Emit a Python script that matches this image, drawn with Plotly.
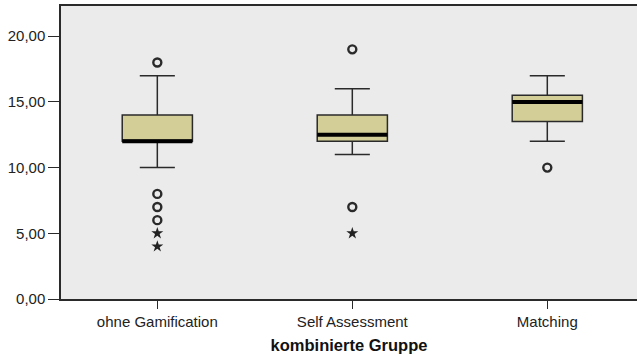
import plotly.graph_objects as go

# Daten
gruppen = ["ohne Gamification", "Self Assessment", "Matching"]
q1 = [12, 12, 13.5]
median = [12, 12.5, 15]
q3 = [14, 14, 15.5]
unten = [10, 11, 12]
oben = [17, 16, 17]

# Ausreisser (o) und Extremwerte (*)
ausreisser = {
    "ohne Gamification": [18, 8, 7, 6],
    "Self Assessment": [19, 7],
    "Matching": [10],
}
extremwerte = {
    "ohne Gamification": [5, 4],
    "Self Assessment": [5],
    "Matching": [],
}

y_ticks = [0, 5, 10, 15, 20]

dunkel = "#2a2a2a"

ax_o, ay_o = [], []
for g, werte in ausreisser.items():
    ax_o += [g] * len(werte)
    ay_o += werte
ax_e, ay_e = [], []
for g, werte in extremwerte.items():
    ax_e += [g] * len(werte)
    ay_e += werte

fig = go.Figure()

fig.add_trace(go.Box(
    x=gruppen, q1=q1, median=median, q3=q3,
    lowerfence=unten, upperfence=oben,
    width=0.36, whiskerwidth=0.5,
    fillcolor="#D3CE97",
    line=dict(color=dunkel, width=1.5),
    boxpoints=False, showlegend=False, hoverinfo="skip",
))

# dicker Medianstrich
fig.add_trace(go.Box(
    x=gruppen, q1=median, median=median, q3=median,
    lowerfence=median, upperfence=median,
    width=0.36, whiskerwidth=0,
    fillcolor="rgba(0,0,0,0)",
    line=dict(color="black", width=4),
    boxpoints=False, showlegend=False, hoverinfo="skip",
))

fig.add_trace(go.Scatter(
    x=ax_o, y=ay_o, mode="markers",
    marker=dict(symbol="circle-open", size=8, color=dunkel, line=dict(width=2.4, color=dunkel)),
    showlegend=False, hoverinfo="skip",
))
fig.add_trace(go.Scatter(
    x=ax_e, y=ay_e, mode="markers",
    marker=dict(symbol="star", size=9, color="#222222"),
    showlegend=False, hoverinfo="skip",
))

fig.update_layout(
    width=637, height=356,
    margin=dict(l=61, r=0, t=6, b=57),
    paper_bgcolor="white",
    plot_bgcolor="#EBEBEB",
    separators=",.",
    boxmode="overlay",
    font=dict(family="Liberation Sans, Arial, sans-serif", size=15, color="#222222"),
    xaxis=dict(
        type="category",
        range=[-0.494, 2.46],
        showgrid=False, zeroline=False,
        showline=True, linecolor=dunkel, linewidth=1.5, mirror=True,
        ticks="outside", ticklen=8, tickcolor=dunkel,
        title=dict(text="<b>kombinierte Gruppe</b>", standoff=11,
                   font=dict(size=16.5, color="#111111")),
    ),
    yaxis=dict(
        range=[0, 22.3],
        tickvals=y_ticks, tickformat=".2f",
        showgrid=False, zeroline=False,
        showline=True, linecolor=dunkel, linewidth=1.5, mirror=False,
        ticks="outside", ticklen=11, tickcolor=dunkel,
    ),
)

fig.write_html("out.html", config={"displayModeBar": False},
               post_script="document.body.style.margin='0';")
